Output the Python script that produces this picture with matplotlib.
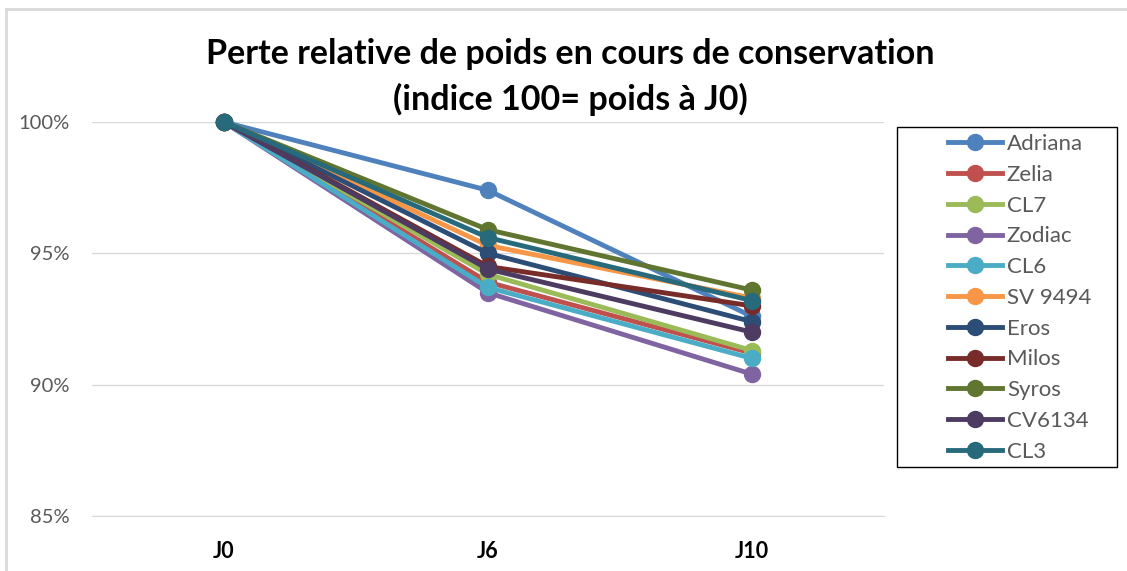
import matplotlib.pyplot as plt
from matplotlib.lines import Line2D
from matplotlib.patches import Rectangle
from matplotlib.ticker import FuncFormatter

days = ['J0', 'J6', 'J10']
varieties = ['Adriana', 'Zelia', 'CL7', 'Zodiac', 'CL6', 'SV 9494',
             'Eros', 'Milos', 'Syros', 'CV6134', 'CL3']
colors = ['#4F81BD', '#C0504D', '#9BBB59', '#8064A2', '#4BACC6', '#F79646',
          '#2C4D75', '#772C2A', '#5F7530', '#4D3B62', '#276A7C']

adriana = [1.0, 0.974, 0.926]
zelia = [1.0, 0.939, 0.912]
cl7 = [1.0, 0.942, 0.913]
zodiac = [1.0, 0.935, 0.904]
cl6 = [1.0, 0.937, 0.910]
sv9494 = [1.0, 0.953, 0.933]
eros = [1.0, 0.950, 0.924]
milos = [1.0, 0.945, 0.930]
syros = [1.0, 0.959, 0.936]
cv6134 = [1.0, 0.944, 0.920]
cl3 = [1.0, 0.956, 0.932]

series = [adriana, zelia, cl7, zodiac, cl6, sv9494,
          eros, milos, syros, cv6134, cl3]

plt.rcParams['font.family'] = ['Lato', 'DejaVu Sans']

fig = plt.figure(figsize=(11.27, 5.71), dpi=100)
ax = fig.add_axes([0.0816, 0.0963, 0.7028, 0.69])

x = range(len(days))
for name, vals, c in zip(varieties, series, colors):
    ax.plot(x, vals, '-o', color=c, lw=3.5, ms=11.5, label=name, clip_on=False)

ax.set_xlim(-0.5, 2.5)
ax.set_ylim(0.85, 1.0)
ax.set_yticks([0.85, 0.90, 0.95, 1.0])
ax.yaxis.set_major_formatter(FuncFormatter(lambda v, p: '{:.0f}%'.format(v * 100)))
ax.set_xticks(list(x))
ax.set_xticklabels(days, fontsize=15.5, fontweight='bold', color='black')
ax.tick_params(axis='y', labelsize=14.5, labelcolor='#595959', length=0, pad=16)
ax.tick_params(axis='x', length=0, pad=18)
ax.grid(axis='y', color='#D9D9D9', lw=1)
ax.set_axisbelow(True)
for s in ['top', 'right', 'left']:
    ax.spines[s].set_visible(False)
ax.spines['bottom'].set_color('#D9D9D9')

fig.text(0.506, 0.905, 'Perte relative de poids en cours de conservation',
         ha='center', va='center', fontsize=24.5, fontweight='bold')
fig.text(0.506, 0.826, '(indice 100= poids à J0)',
         ha='center', va='center', fontsize=24.5, fontweight='bold')

# Excel chart border on left/top
fig.add_artist(Line2D([0.0053, 0.0053], [0, 0.984], color='#D9D9D9', lw=2,
                      transform=fig.transFigure))
fig.add_artist(Line2D([0.0053, 1], [0.984, 0.984], color='#D9D9D9', lw=2,
                      transform=fig.transFigure))

# legend box drawn separately, entries placed inside it
fig.add_artist(Rectangle((897 / 1127, 1 - 467 / 571), 220 / 1127, 340 / 571,
                         transform=fig.transFigure, fill=False,
                         edgecolor='black', lw=1))
leg = fig.legend(loc='upper left', bbox_to_anchor=(948 / 1127, 1 - 134 / 571),
                 fontsize=16, frameon=False,
                 handlelength=2.45, labelspacing=0.485, handletextpad=0.2,
                 borderpad=0, borderaxespad=0)
for t in leg.get_texts():
    t.set_color('#595959')

fig.savefig('out.png', dpi=100)
